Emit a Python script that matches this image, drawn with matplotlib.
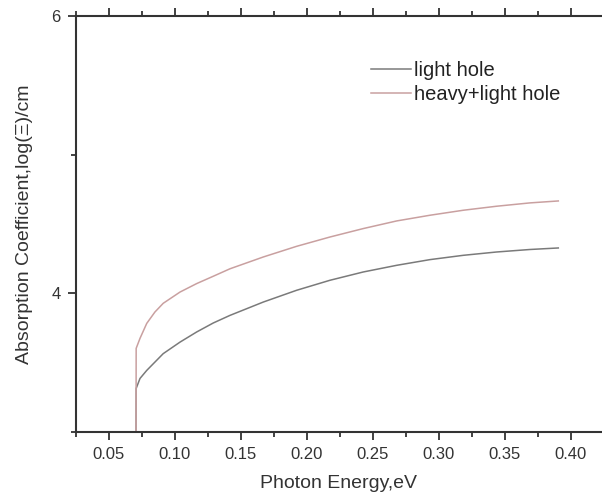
import matplotlib
matplotlib.use("Agg")
import matplotlib.pyplot as plt
from matplotlib.ticker import MultipleLocator

plt.rcParams['font.family'] = ['Liberation Sans', 'DejaVu Sans']

# photon energy (eV)
energy = [0.0705, 0.0706, 0.0735, 0.0786, 0.0848, 0.0911, 0.1038, 0.1164,
          0.1290, 0.1417, 0.1669, 0.1922, 0.2174, 0.2427, 0.2680, 0.2932,
          0.3184, 0.3437, 0.3689, 0.3904]
light = [3.0, 3.314, 3.386, 3.444, 3.504, 3.565, 3.648, 3.721,
         3.786, 3.841, 3.937, 4.022, 4.094, 4.154, 4.202, 4.243,
         4.274, 4.298, 4.316, 4.327]
heavyLight = [3.0, 3.603, 3.675, 3.783, 3.865, 3.928, 4.009, 4.070,
              4.123, 4.177, 4.262, 4.339, 4.406, 4.467, 4.522, 4.563,
              4.599, 4.628, 4.652, 4.666]

fig = plt.figure(figsize=(6.02, 4.99), dpi=100)
ax = fig.add_axes([0.1262, 0.1343, 0.8738, 0.8337])

ax.plot(energy, light, color="#7a7a7a", lw=1.1, label="light hole")
ax.plot(energy, heavyLight, color="#c9a0a0", lw=1.1, label="heavy+light hole")

ax.set_xlim(0.025, 0.4235)
ax.set_ylim(3, 6)
ax.xaxis.set_minor_locator(MultipleLocator(0.025))
ax.yaxis.set_minor_locator(MultipleLocator(1))
ax.set_xticks([0.05, 0.10, 0.15, 0.20, 0.25, 0.30, 0.35, 0.40])
ax.set_xticklabels(["0.05", "0.10", "0.15", "0.20", "0.25", "0.30", "0.35", "0.40"])
ax.set_yticks([4, 6])
ax.set_yticklabels(["4", "6"])

ax.spines['right'].set_visible(False)
for s in ['left', 'top', 'bottom']:
    ax.spines[s].set_linewidth(1.5)
    ax.spines[s].set_color("#333333")
ax.tick_params(which='both', direction='out', top=True, right=False,
               color="#333333", width=1.3, labelsize=12, labelcolor="#333333")
ax.tick_params(which='major', length=6, pad=5)
ax.tick_params(which='minor', length=3.5)

ax.set_xlabel("Photon Energy,eV", fontsize=14, color="#333333", labelpad=9)
ax.set_ylabel("Absorption Coefficient,log(\u039e)/cm", fontsize=14, color="#333333", labelpad=13)

leg = ax.legend(loc="upper left", bbox_to_anchor=(0.545, 0.912), frameon=False,
                fontsize=14.5, handlelength=2.0, handletextpad=0.15,
                labelspacing=0.25, borderaxespad=0)
for t in leg.get_texts():
    t.set_color("#222222")

fig.savefig("out.png", dpi=100)
